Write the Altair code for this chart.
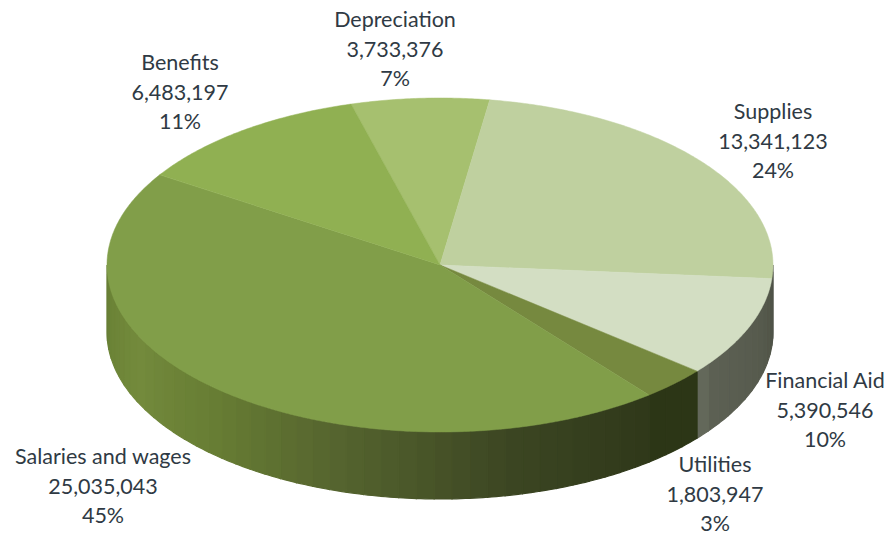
import numpy as np
import pandas as pd
import altair as alt

# Data
categories = ["Depreciation", "Supplies", "Financial Aid", "Utilities", "Salaries and wages", "Benefits"]
amounts = [3733376, 13341123, 5390546, 1803947, 25035043, 6483197]
percents = [7, 24, 10, 3, 45, 11]

# Styling and layout, kept apart from the data
top_colors = ["#a6c06f", "#bfd09f", "#d3dec3", "#76893f", "#819e49", "#90b052"]
side_stops = {
    "Supplies": [(0, "#4f5348"), (1, "#4f5348")],
    "Financial Aid": [(0, "#4e5246"), (0.3, "#565a4d"), (0.9, "#5c6053"), (1, "#696e60")],
    "Utilities": [(0, "#2c3616"), (1, "#2c3616")],
    "Salaries and wages": [(0, "#2f3819"), (0.2, "#3b4522"), (0.45, "#56652f"), (0.62, "#667c33"),
                           (0.8, "#738a3c"), (0.95, "#6a8236"), (1, "#667d35")],
}
label_x_px = [395, 773, 825, 715, 103, 180]
label_y_px = [27, 119, 388, 472, 464, 70]
CX, CY, RX, RY, DEPTH = 440, 265, 333, 167, 67
START_DEG = -15.5
W, H = 877, 527


def hex_mix(stops, t):
    xs = [s[0] for s in stops]
    rgb = [[int(s[1][i:i + 2], 16) for i in (1, 3, 5)] for s in stops]
    return "#%02x%02x%02x" % tuple(int(round(np.interp(t, xs, [c[k] for c in rgb]))) for k in range(3))


fractions = np.array(amounts) / np.sum(amounts)
edges = START_DEG + 360 * np.concatenate([[0], np.cumsum(fractions)])

top_rows, side_rows = [], []
for n, name in enumerate(categories):
    a0, a1 = edges[n], edges[n + 1]
    ang = np.radians(np.linspace(a0, a1, max(int((a1 - a0) * 2), 8)))
    pts = [(0.0, 0.0)] + [(np.sin(a), np.cos(a)) for a in ang] + [(0.0, 0.0)]
    for i, (x, y) in enumerate(pts):
        top_rows.append(dict(name=name, i=i, x=x, y=y, c=top_colors[n]))
    # front wall: only the part facing the viewer (90 to 270 degrees)
    v0, v1 = max(a0, 90), min(a1, 270)
    if name in side_stops and v1 > v0:
        steps = max(int((v1 - v0) / 3), 2)
        e = np.linspace(v0, v1, steps + 1)
        d = DEPTH / RY
        for k in range(steps):
            fine = np.radians(np.linspace(e[k], e[k + 1], 5))
            col = hex_mix(side_stops[name], (k + 0.5) / steps)
            quad = [(np.sin(b), np.cos(b)) for b in fine] + \
                   [(np.sin(b), np.cos(b) - d) for b in fine[::-1]] + \
                   [(np.sin(fine[0]), np.cos(fine[0]))]
            for i, (x, y) in enumerate(quad):
                side_rows.append(dict(name=f"{name}{k}", i=i, x=x, y=y, c=col))

labels = pd.DataFrame({
    "text": [f"{c}\n{a:,}\n{p}%" for c, a, p in zip(categories, amounts, percents)],
    "x": [(p - CX) / RX for p in label_x_px],
    "y": [(CY - p) / RY for p in label_y_px],
})

xs = alt.Scale(domain=[(8 - CX) / RX, (8 + W - CX) / RX], nice=False, zero=False)
ys = alt.Scale(domain=[(CY - 8 - H) / RY, (CY - 8) / RY], nice=False, zero=False)
X = alt.X("x:Q", scale=xs, axis=None)
Y = alt.Y("y:Q", scale=ys, axis=None)


def polys(rows, sw):
    return alt.Chart(pd.DataFrame(rows)).mark_line(filled=True, strokeWidth=sw, interpolate="linear").encode(
        x=X, y=Y,
        detail="name:N",
        order=alt.Order("i:Q"),
        fill=alt.Fill("c:N", scale=None),
        stroke=alt.Stroke("c:N", scale=None),
    )


text = alt.Chart(labels).mark_text(
    font="Lato", fontSize=21.5, color="#2f3a44", align="center", baseline="alphabetic",
    lineBreak="\n", lineHeight=29.5,
).encode(x=X, y=Y, text="text:N")

chart = alt.layer(polys(side_rows, 1.2), polys(top_rows, 0.5), text).properties(
    width=W, height=H, padding=0, autosize=alt.AutoSizeParams(type="none"),
    background="white",
).configure_view(stroke=None)

chart.save("out.html", embed_options={"renderer": "svg", "actions": False})
